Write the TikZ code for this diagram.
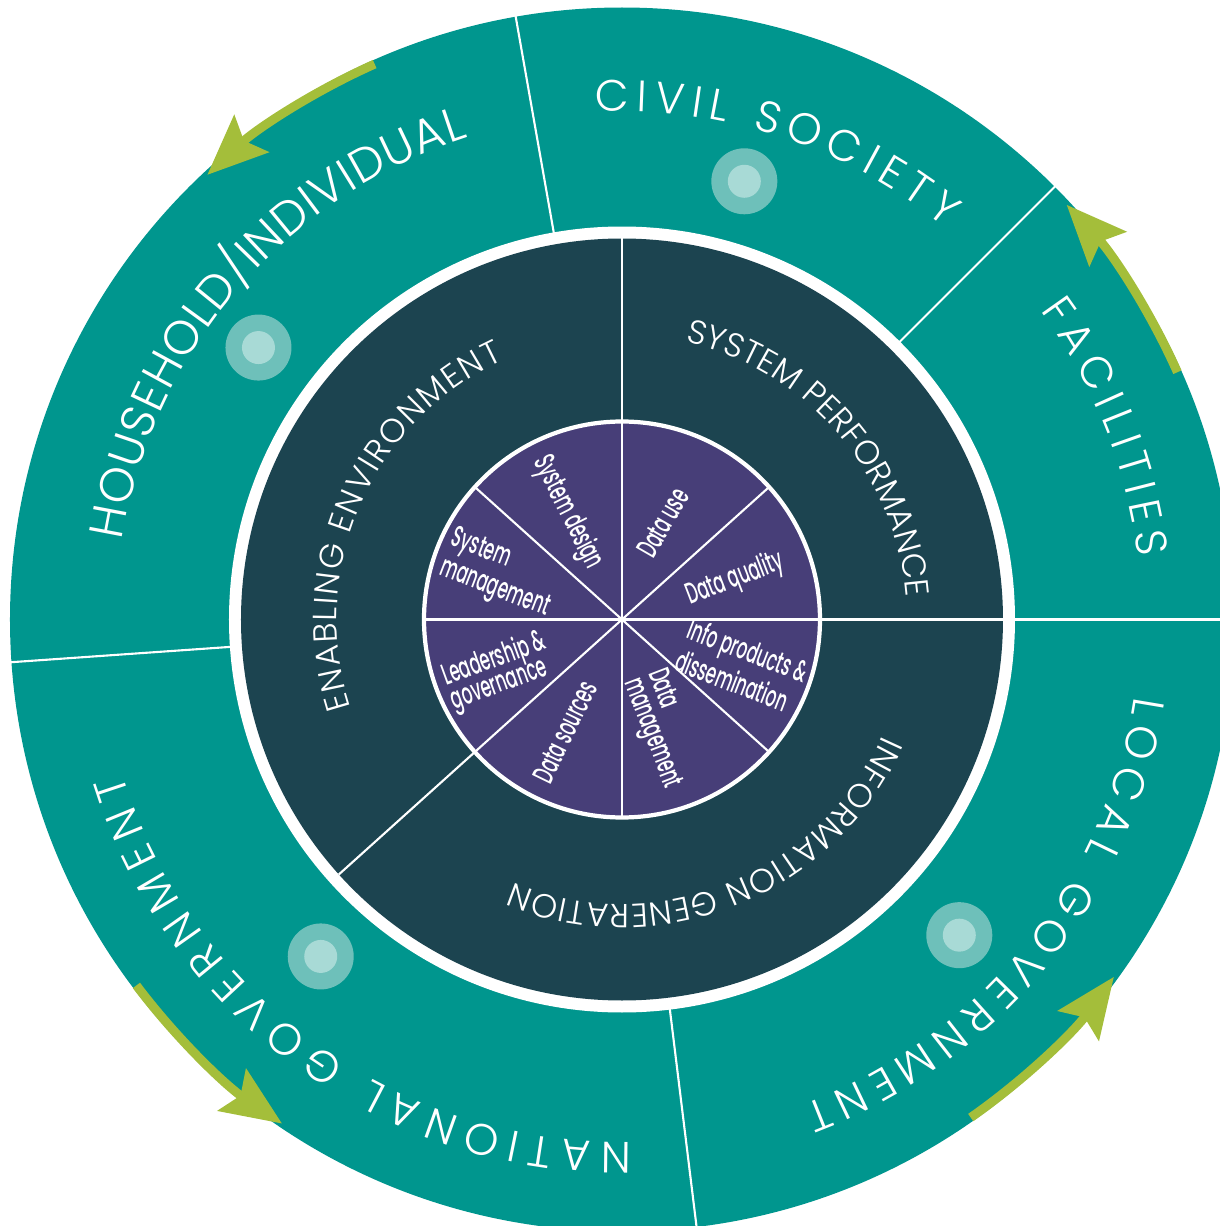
\documentclass[tikz,border=0pt]{standalone}
\usepackage{fontspec}
\usetikzlibrary{arrows.meta}
\usetikzlibrary{decorations.text}
\definecolor{sea}{RGB}{0,150,142}
\definecolor{slate}{RGB}{28,68,80}
\definecolor{grape}{RGB}{71,62,120}
\definecolor{leaf}{RGB}{164,190,58}
\definecolor{mint}{RGB}{110,192,186}
\definecolor{foam}{RGB}{168,218,214}
\newfontfamily\ringfont{Poppins Light}
\newfontfamily\wedgefont[FakeStretch=0.55]{Poppins Medium}
\tikzset{
  divider/.style={white, line width=0.6pt},
  ringlabel/.style 2 args={decorate, decoration={text along path, text align=fit to path, text color=white,
    text={|\ringfont\fontsize{#1}{#1}\selectfont|#2}}},
  wedgelabel/.style={white, align=left, inner sep=0pt, font=\wedgefont\fontsize{8.5}{7.2}\selectfont},
  cyclearrow/.style={leaf, line width=0.09cm, -{Stealth[length=0.6cm, width=0.5cm, inset=0.1cm]}},
}

\begin{document}
\begin{tikzpicture}
	\useasboundingbox (-6.22,-6.065) rectangle (5.98,6.195);
	\clip (-6.22,-6.065) rectangle (5.98,6.195);
	% outer band
	\fill[sea] (0,0) circle (6.12);
	\foreach \a in {100,45,0,-83,184}
	\draw[divider] (\a:3.9) -- (\a:6.15);
	\fill[white] (0,0) circle (3.93);
	% middle ring
	\fill[slate] (0,0) circle (3.81);
	\foreach \a in {90,0,222}
	\draw[divider] (\a:1.9) -- (\a:3.81);
	% inner pie
	\filldraw[fill=grape, draw=white, line width=1.2pt] (0,0) circle (1.98);
	\foreach \a in {0,42,90,138,180,222,270,318}
	\draw[divider] (0,0) -- (\a:1.98);
	\foreach \a/\r/\rot/\txt [count=\i] in {117/1.20/-63/{System design}, 67/1.05/60/{Data use},
		19.5/1.20/21/{Data quality}, -21/1.29/-21/{Info products \&\\dissemination},
		-69.5/1.17/-69/{Data\\management}, 243/1.26/64/{Data sources},
		203/1.34/20/{Leadership \&\\governance}, 159.7/1.30/-21/{System\\management}}
	\node[wedgelabel, rotate=\rot] (w\i) at (\a:\r) {\txt};
	% dots
	\foreach \a/\r in {143.2/4.54, 74.4/4.55, 228.2/4.52, -43.1/4.62}{
		\fill[mint] (\a:\r) circle (0.33);
		\fill[foam] (\a:\r) circle (0.165);
	}
	% arrows
	\foreach \a in {114,24,-55,217}
	\draw[cyclearrow] (\a:6.08) arc[start angle=\a, delta angle=19, radius=6.08];
	% ring texts
	\path[ringlabel={12.5}{CIVIL SOCIETY}] (93:5.08) arc[start angle=93, end angle=50.5, radius=5.08];
	\path[ringlabel={13.5}{HOUSEHOLD/INDIVIDUAL}] (171:5.06) arc[start angle=171, end angle=107.7, radius=5.06];
	\path[ringlabel={12.5}{FACILITIES}] (36.5:5.2) arc[start angle=36.5, end angle=6.9, radius=5.2];
	\path[ringlabel={12.5}{LOCAL GOVERNMENT}] (-8.5:5.18) arc[start angle=-8.5, end angle=-69.5, radius=5.18];
	\path[ringlabel={12.5}{NATIONAL GOVERNMENT}] (271:5.23) arc[start angle=271, end angle=197.2, radius=5.23];
	\path[ringlabel={9.5}{SYSTEM PERFORMANCE}] (77.2:2.85) arc[start angle=77.2, end angle=4.4, radius=2.85];
	\path[ringlabel={9.5}{ENABLING ENVIRONMENT}] (198:2.85) arc[start angle=198, end angle=114.5, radius=2.85];
	\path[ringlabel={9.5}{INFORMATION GENERATION}] (-24:2.85) arc[start angle=-24, end angle=-112.5, radius=2.85];
\end{tikzpicture}
\end{document}
